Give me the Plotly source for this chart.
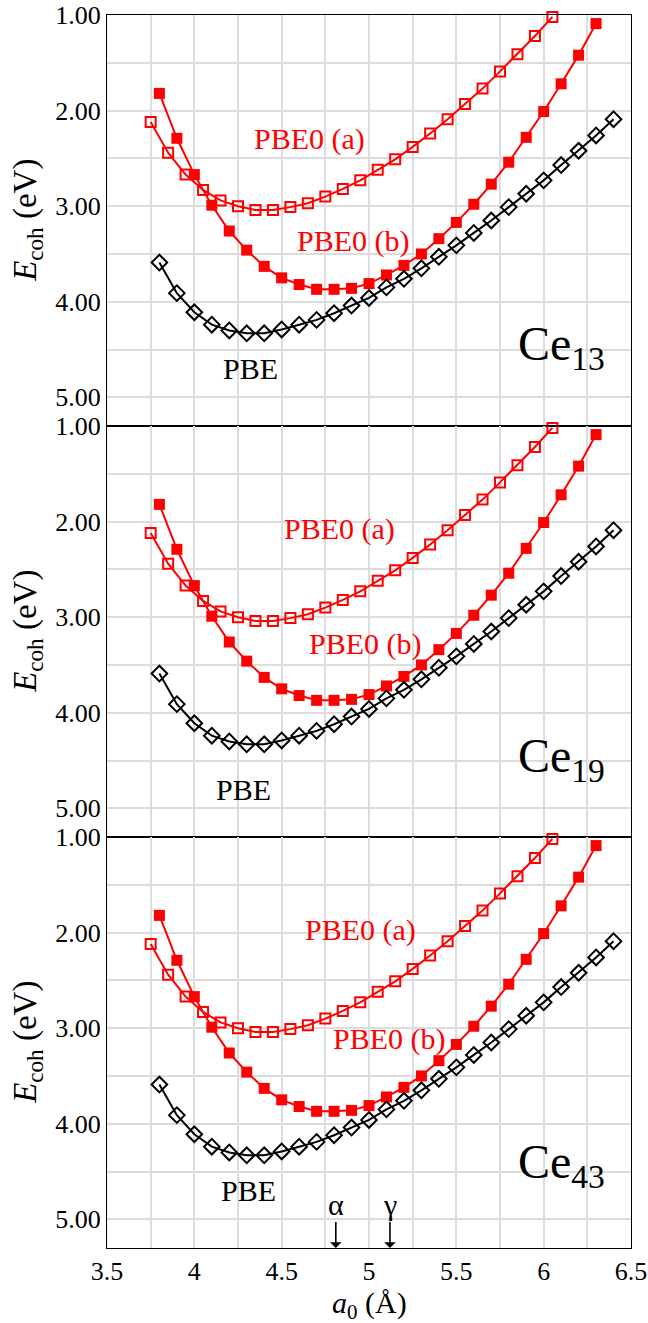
import plotly.graph_objects as go
from plotly.subplots import make_subplots

# ---------------- data ----------------
pbe0a_x = [3.75, 3.85, 3.95, 4.05, 4.15, 4.25, 4.35, 4.45, 4.55, 4.65, 4.75, 4.85,
           4.95, 5.05, 5.15, 5.25, 5.35, 5.45, 5.55, 5.65, 5.75, 5.85, 5.95, 6.05]
pbe0a_y = [2.12, 2.44, 2.67, 2.83, 2.94, 3.00, 3.04, 3.04, 3.01, 2.97, 2.90, 2.82,
           2.73, 2.62, 2.51, 2.38, 2.24, 2.09, 1.93, 1.77, 1.59, 1.41, 1.22, 1.02]

pbe0b_x = [3.8, 3.9, 4.0, 4.1, 4.2, 4.3, 4.4, 4.5, 4.6, 4.7, 4.8, 4.9, 5.0,
           5.1, 5.2, 5.3, 5.4, 5.5, 5.6, 5.7, 5.8, 5.9, 6.0, 6.1, 6.2, 6.3]
pbe0b_y = [1.82, 2.29, 2.67, 2.99, 3.26, 3.46, 3.63, 3.75, 3.82, 3.87, 3.87, 3.86, 3.81,
           3.72, 3.62, 3.50, 3.34, 3.17, 2.98, 2.77, 2.54, 2.28, 2.01, 1.72, 1.42, 1.09]

pbe_x = [3.8, 3.9, 4.0, 4.1, 4.2, 4.3, 4.4, 4.5, 4.6, 4.7, 4.8, 4.9, 5.0, 5.1,
         5.2, 5.3, 5.4, 5.5, 5.6, 5.7, 5.8, 5.9, 6.0, 6.1, 6.2, 6.3, 6.4]
pbe_y = [3.59, 3.91, 4.11, 4.24, 4.30, 4.33, 4.33, 4.29, 4.24, 4.19, 4.12, 4.04, 3.96, 3.85,
         3.76, 3.65, 3.53, 3.41, 3.28, 3.15, 3.01, 2.87, 2.73, 2.57, 2.42, 2.26, 2.09]

cluster_labels = ["Ce<sub>13</sub>", "Ce<sub>19</sub>", "Ce<sub>43</sub>"]
# label positions per panel (a0, Ecoh)
lab_a_pos = [(4.66, 2.30), (4.83, 2.08), (4.95, 1.97)]
lab_b_pos = [(4.91, 3.36), (4.98, 3.28), (5.12, 3.11)]
lab_pbe_pos = [(4.32, 4.70), (4.28, 4.80), (4.31, 4.70)]
lab_ce_pos = [(6.10, 4.47), (6.10, 4.48), (6.10, 4.43)]

phase_names = ["α", "γ"]
phase_a0 = [4.81, 5.12]

x_ticks = [3.5, 4, 4.5, 5, 5.5, 6, 6.5]
x_ticktext = ["3.5", "4", "4.5", "5", "5.5", "6", "6.5"]
y_ticks = [1, 2, 3, 4, 5]
y_ticktext = ["1.00", "2.00", "3.00", "4.00", "5.00"]

FONT = "Liberation Serif, Times New Roman, serif"
RED = "#ff0000"

fig = make_subplots(rows=3, cols=1, shared_xaxes=True, vertical_spacing=0)

for r in range(1, 4):
    fig.add_trace(go.Scatter(
        x=pbe0a_x, y=pbe0a_y, mode="lines+markers", cliponaxis=False,
        line=dict(color=RED, width=2),
        marker=dict(symbol="square-open", size=10, color=RED, line=dict(width=2, color=RED)),
        showlegend=False), row=r, col=1)
    fig.add_trace(go.Scatter(
        x=pbe0b_x, y=pbe0b_y, mode="lines+markers", cliponaxis=False,
        line=dict(color=RED, width=2),
        marker=dict(symbol="square", size=11, color=RED),
        showlegend=False), row=r, col=1)
    fig.add_trace(go.Scatter(
        x=pbe_x, y=pbe_y, mode="lines+markers", cliponaxis=False,
        line=dict(color="black", width=2),
        marker=dict(symbol="diamond-open", size=12, color="black", line=dict(width=2, color="black")),
        showlegend=False), row=r, col=1)

annotations = []
for i in range(3):
    xr = "x" if i == 0 else f"x{i+1}"
    yr = "y" if i == 0 else f"y{i+1}"
    annotations.append(dict(x=lab_a_pos[i][0], y=lab_a_pos[i][1], xref=xr, yref=yr,
                            text="PBE0 (a)", showarrow=False,
                            font=dict(family=FONT, size=30, color=RED)))
    annotations.append(dict(x=lab_b_pos[i][0], y=lab_b_pos[i][1], xref=xr, yref=yr,
                            text="PBE0 (b)", showarrow=False,
                            font=dict(family=FONT, size=30, color=RED)))
    annotations.append(dict(x=lab_pbe_pos[i][0], y=lab_pbe_pos[i][1], xref=xr, yref=yr,
                            text="PBE", showarrow=False,
                            font=dict(family=FONT, size=30, color="black")))
    annotations.append(dict(x=lab_ce_pos[i][0], y=lab_ce_pos[i][1], xref=xr, yref=yr,
                            text=cluster_labels[i], showarrow=False,
                            font=dict(family=FONT, size=48, color="black")))
    # y-axis title
    annotations.append(dict(x=-0.152, y=(2.5 - i) / 3.0, xref="paper", yref="paper",
                            text="<i>E</i><sub>coh</sub> (eV)", textangle=-90,
                            showarrow=False, xanchor="center", yanchor="middle",
                            font=dict(family=FONT, size=33, color="black")))

for name, a0 in zip(phase_names, phase_a0):
    annotations.append(dict(x=a0, y=5.3, xref="x3", yref="y3", text=name,
                            showarrow=True, arrowhead=1, arrowsize=1.2, arrowwidth=1.6,
                            arrowcolor="black", ax=0, ay=-44,
                            font=dict(family=FONT, size=30, color="black")))

annotations.append(dict(x=0.5, y=-0.046, xref="paper", yref="paper",
                        text="<i>a</i><sub>0</sub> (Å)", showarrow=False,
                        xanchor="center", yanchor="middle",
                        font=dict(family=FONT, size=30, color="black")))

GRID = "#dcdcdc"
for r in range(1, 4):
    fig.update_xaxes(range=[3.5, 6.5], tickvals=x_ticks, ticktext=x_ticktext,
                     showgrid=True, gridcolor=GRID, gridwidth=1.5,
                     minor=dict(dtick=0.25, tick0=3.5, showgrid=True, gridcolor=GRID, gridwidth=1.5),
                     showline=True, linecolor="black", linewidth=1.2, mirror=True,
                     ticks="", zeroline=False, automargin=False,
                     tickfont=dict(family=FONT, size=26, color="black"),
                     showticklabels=(r == 3), row=r, col=1)
    fig.update_yaxes(range=[5.3, 1.0], tickvals=y_ticks, ticktext=y_ticktext,
                     showgrid=True, gridcolor=GRID, gridwidth=1.5,
                     minor=dict(dtick=0.5, tick0=1.0, showgrid=True, gridcolor=GRID, gridwidth=1.5),
                     showline=True, linecolor="black", linewidth=1.2, mirror=True,
                     ticks="", zeroline=False, automargin=False,
                     tickfont=dict(family=FONT, size=26, color="black"),
                     row=r, col=1)

fig.update_layout(width=648, height=1323,
                  margin=dict(l=107, r=17, t=15, b=75),
                  plot_bgcolor="white", paper_bgcolor="white",
                  font=dict(family=FONT, color="black"),
                  annotations=annotations, showlegend=False)

fig.write_html("out.html")
